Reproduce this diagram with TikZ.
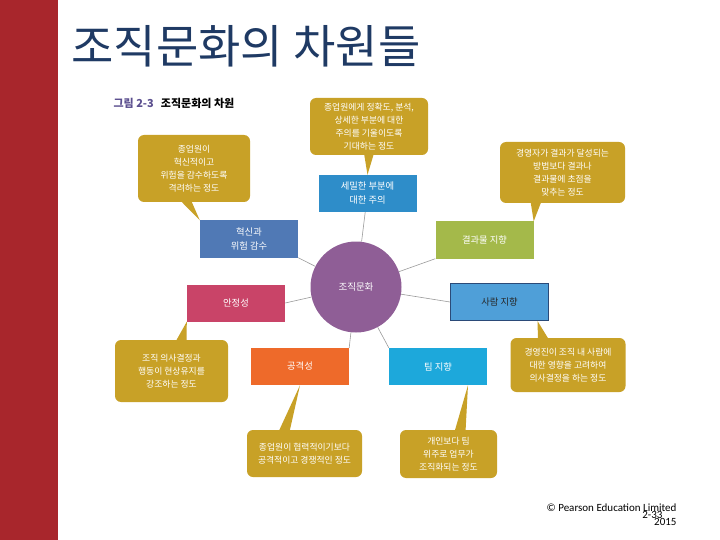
\documentclass[tikz,border=0pt]{standalone}
\usepackage{fontspec}
\setmainfont{Noto Sans CJK KR}
\newfontfamily\latinfont{Carlito}
\usetikzlibrary{calc}
\definecolor{bar}{HTML}{A8262C}
\definecolor{ttl}{HTML}{1F3A64}
\definecolor{capc}{HTML}{5B4F8F}
\definecolor{gold}{HTML}{C8A127}
\definecolor{fine}{HTML}{2E8DC9}
\definecolor{innov}{HTML}{5079B5}
\definecolor{outc}{HTML}{A4B94A}
\definecolor{stab}{HTML}{C94468}
\definecolor{ppl}{HTML}{4F9FD8}
\definecolor{pplline}{HTML}{2B4A78}
\definecolor{aggr}{HTML}{EE6A2A}
\definecolor{team}{HTML}{1DA8DB}
\definecolor{core}{HTML}{8F5E96}
\definecolor{edge}{HTML}{9A9A9A}
\tikzset{
  bx/.style={minimum width=98pt, minimum height=37pt, inner sep=2pt, align=center, text=white, font=\fontsize{9.3}{14}\selectfont},
  bfine/.style={bx, fill=fine},
  binnov/.style={bx, fill=innov},
  boutc/.style={bx, fill=outc},
  bstab/.style={bx, fill=stab},
  bppl/.style={bx, fill=ppl, draw=pplline, line width=1pt, text=black!85},
  baggr/.style={bx, fill=aggr},
  bteam/.style={bx, fill=team},
  co/.style={fill=gold, rounded corners=6pt, align=center, text=white, inner sep=2pt, font=\fontsize{8.8}{13}\selectfont},
  tl/.style={fill=gold},
  a/.style={draw=edge, line width=0.6pt},
}
\begin{document}
\begin{tikzpicture}[x=1pt, y=-1pt]
\useasboundingbox (0,0) rectangle (720,540);
\fill[white] (0,0) rectangle (720,540);
\fill[bar] (0,0) rectangle (58,540);

\node[anchor=west, text=ttl, font=\fontsize{46}{50}\selectfont] (title) at (68,46) {조직문화의 차원들};
\node[anchor=west, font=\bfseries\fontsize{11}{13}\selectfont] (cap) at (110,103) {{\color{capc}그림 2-3}\hspace{7pt}조직문화의 차원};

\node[circle, fill=core, minimum size=91pt, text=white, font=\fontsize{9.5}{11}\selectfont] (circ) at (356,287) {조직문화};

\node[bfine]  (fine)  at (367.5,193.5) {세밀한 부분에\\대한 주의};
\node[binnov] (innov) at (249,239)     {혁신과\\위험 감수};
\node[boutc]  (outc)  at (484.5,240)   {결과물 지향};
\node[bstab]  (stab)  at (236,303)     {안정성};
\node[bppl]   (ppl)   at (499.5,302)   {사람 지향};
\node[baggr]  (aggr)  at (300,366.5)   {공격성};
\node[bteam]  (team)  at (438,366.5)   {팀 지향};

\node[co, minimum width=112pt, minimum height=67pt] (cinnov) at (194,168.5) {종업원이\\혁신적이고\\위험을 감수하도록\\격려하는 정도};
\node[co, minimum width=118pt, minimum height=57pt] (cfine)  at (369,126.5) {종업원에게 정확도, 분석,\\상세한 부분에 대한\\주의를 기울이도록\\기대하는 정도};
\node[co, minimum width=125pt, minimum height=61pt] (coutc)  at (562.5,172.5) {경영자가 결과가 달성되는\\방법보다 결과나\\결과물에 초점을\\맞추는 정도};
\node[co, minimum width=113pt, minimum height=62pt] (cstab)  at (171.5,371) {조직 의사결정과\\행동이 현상유지를\\강조하는 정도};
\node[co, minimum width=115pt, minimum height=54pt] (cppl)   at (568,365) {경영진이 조직 내 사람에\\대한 영향을 고려하여\\의사결정을 하는 정도};
\node[co, minimum width=115pt, minimum height=47pt] (caggr)  at (304.5,453.5) {종업원이 협력적이기보다\\공격적이고 경쟁적인 정도};
\node[co, minimum width=97pt, minimum height=48pt]  (cteam)  at (448.5,454) {개인보다 팀\\위주로 업무가\\조직화되는 정도};

\fill[tl] ($(cinnov.south)+(-14,-2)$) -- (innov.north west) -- ($(cinnov.south)+(-3,-2)$) -- cycle;
\fill[tl] ($(cfine.south)+(-5,-2)$) -- (fine.north) -- ($(cfine.south)+(5,-2)$) -- cycle;
\fill[tl] ($(coutc.south)+(-32,-2)$) -- (outc.north east) -- ($(coutc.south)+(-21,-2)$) -- cycle;
\fill[tl] ($(cstab.north)+(4,2)$) -- (stab.south west) -- ($(cstab.north)+(15,2)$) -- cycle;
\fill[tl] ($(cppl.north)+(-30,2)$) -- ($(ppl.south)+(38,0)$) -- ($(cppl.north)+(-19,2)$) -- cycle;
\fill[tl] ($(caggr.north)+(-26,2)$) -- (aggr.south) -- ($(caggr.north)+(-15,2)$) -- cycle;
\fill[tl] ($(cteam.north)+(6,2)$) -- ($(team.south)+(30,0)$) -- ($(cteam.north)+(17,2)$) -- cycle;

\draw[a] (circ) -- (fine);
\draw[a] (circ) -- (innov.south east);
\draw[a] (circ) -- (outc.south west);
\draw[a] (circ) -- (stab.east);
\draw[a] (circ) -- (ppl.west);
\draw[a] (circ) -- (aggr.north east);
\draw[a] (circ) -- (team.north west);

\node[anchor=east, font=\latinfont\fontsize{11}{12}\selectfont] (copy) at (680,508) {© Pearson Education Limited};
\node[anchor=east, font=\latinfont\fontsize{11}{12}\selectfont] (yr) at (680,522) {2015};
\node[anchor=east, font=\latinfont\fontsize{11}{12}\selectfont] (pg) at (666,515) {2-33};
\end{tikzpicture}
\end{document}
